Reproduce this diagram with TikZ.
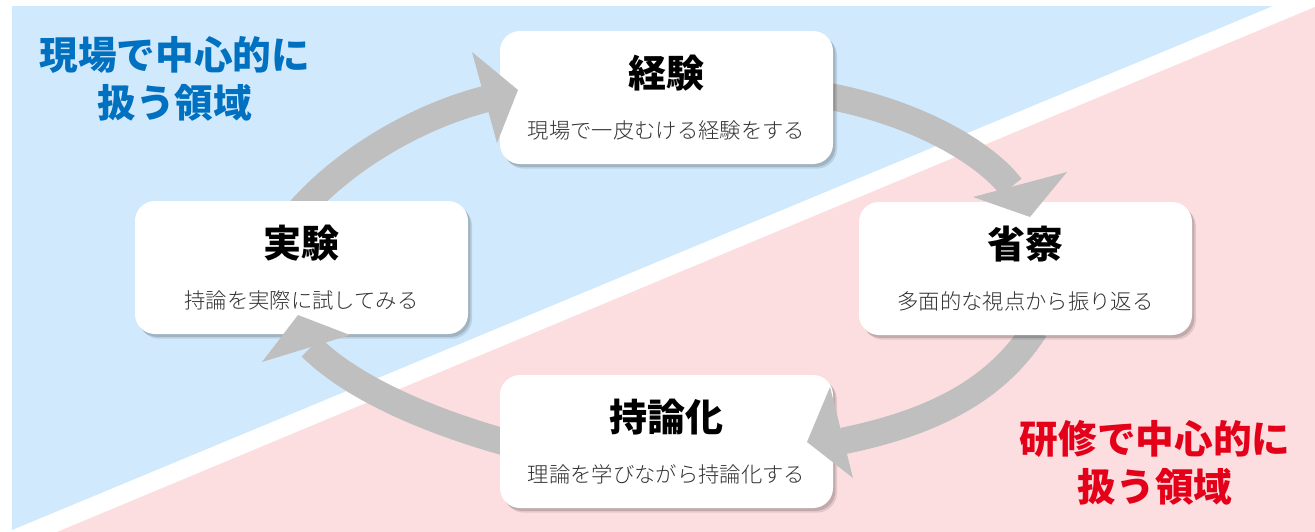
\documentclass[tikz,border=0pt]{standalone}
\usepackage{fontspec}
\newfontfamily\jp{Noto Sans CJK JP}
\newfontfamily\jplight{Noto Sans CJK JP Light}
\usetikzlibrary{calc}
\definecolor{bgblue}{RGB}{208,233,252}
\definecolor{bgpink}{RGB}{252,222,224}
\definecolor{arrowgray}{RGB}{191,191,191}
\definecolor{titleblue}{RGB}{0,112,192}
\definecolor{titlered}{RGB}{228,0,24}
\definecolor{subgray}{RGB}{50,50,50}
\pgfdeclarelayer{back}
\pgfdeclarelayer{front}
\pgfsetlayers{back,main,front}
\begin{document}
\begin{tikzpicture}[x=0.75pt,y=-0.75pt,
  card/.style={fill=white, rounded corners=15pt, minimum width=249.75pt, minimum height=99.75pt, inner sep=0pt,
    preaction={fill=black, opacity=0.10, transform canvas={shift={(3pt,-3.5pt)}}},
    preaction={fill=black, opacity=0.14, transform canvas={shift={(1.8pt,-2.2pt)}}}},
  ttl/.style={font=\jp\bfseries\fontsize{28.5}{34}\selectfont, text=black, inner sep=0pt},
  sub/.style={font=\jplight\fontsize{16}{19}\selectfont, text=subgray, inner sep=0pt},
  shaft/.style={draw=arrowgray, line width=20pt, line cap=butt},
  head/.style={fill=arrowgray},
  area/.style={font=\jp\bfseries\fontsize{29}{36}\selectfont, align=center, inner sep=0pt}]
\useasboundingbox (0,0) rectangle (1315,532);

% cards
\node[card] (keiken) at (666.5,97.5) {};
\node[card] (shousatsu) at (1025.5,268.5) {};
\node[card] (jiron) at (666.5,441.5) {};
\node[card] (jikken) at (301.5,267.5) {};

% arrow geometry
\coordinate (hA) at (486,99);
\coordinate (hA1) at (472,52);
\coordinate (hAt) at (518,90);
\coordinate (hA2) at (497,143);
\coordinate (hB) at (1011,187);
\coordinate (hB1) at (973,197);
\coordinate (hBt) at (1030,217);
\coordinate (hB2) at (1067,172);
\coordinate (hC) at (843,441);
\coordinate (hC1) at (830,387);
\coordinate (hCt) at (807,442);
\coordinate (hC2) at (853,478);
\coordinate (hD) at (311,347);
\coordinate (hD1) at (350,335);
\coordinate (hDt) at (298,315);
\coordinate (hD2) at (262,362);

\begin{pgfonlayer}{back}
  \fill[white] (0,0) rectangle (1315,532);
  \fill[bgblue] (12,6) -- (1273,6) -- (12,530) -- cycle;
  \fill[bgpink] (57,532) -- (1315,7) -- (1315,532) -- cycle;
  \draw[shaft] ($(jikken.north)+(-2,10)$) .. controls (346,158) and (419,116) .. (hA);
  \draw[shaft] ($(keiken.east)+(-8,-2)$) .. controls (920,113) and (987,155) .. (hB);
  \draw[shaft] ($(shousatsu.south)+(9.5,-6)$) .. controls (995,392) and (930,423) .. (hC);
  \draw[shaft] ($(jiron.west)+(8,1.5)$) .. controls (415,417) and (347,383) .. (hD);
\end{pgfonlayer}

\begin{pgfonlayer}{front}
  \fill[head] (hA1) -- (hAt) -- (hA2) -- cycle;
  \fill[head] (hB1) -- (hBt) -- (hB2) -- cycle;
  \fill[head] (hC1) -- (hCt) -- (hC2) -- cycle;
  \fill[head] (hD1) -- (hDt) -- (hD2) -- cycle;

  \node[ttl] (t1) at ($(keiken.center)+(0,-24)$) {経験};
  \node[sub] (s1) at ($(keiken.center)+(0,33)$) {現場で一皮むける経験をする};
  \node[ttl] (t2) at ($(shousatsu.center)+(0,-24)$) {省察};
  \node[sub] (s2) at ($(shousatsu.center)+(0,33)$) {多面的な視点から振り返る};
  \node[ttl] (t3) at ($(jiron.center)+(0,-24)$) {持論化};
  \node[sub] (s3) at ($(jiron.center)+(0,33)$) {理論を学びながら持論化する};
  \node[ttl] (t4) at ($(jikken.center)+(0,-24)$) {実験};
  \node[sub] (s4) at ($(jikken.center)+(0,33)$) {持論を実際に試してみる};

  \node[area, text=titleblue] (genba) at (175,79) {現場で中心的に\\扱う領域};
  \node[area, text=titlered] (kenshu) at (1155,463) {研修で中心的に\\扱う領域};
\end{pgfonlayer}
\end{tikzpicture}
\end{document}
